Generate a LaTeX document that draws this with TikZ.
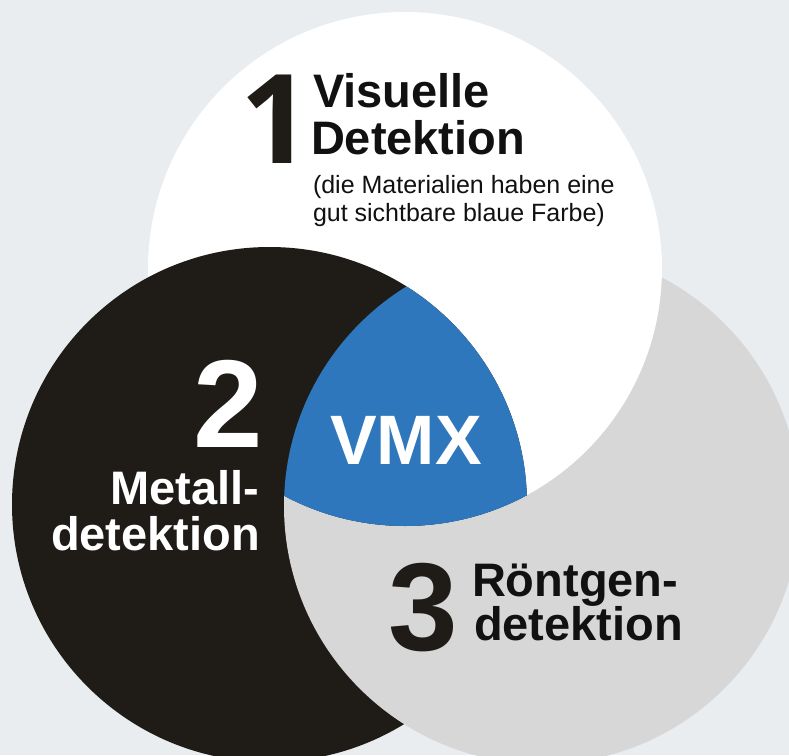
\documentclass[tikz,border=0pt]{standalone}
\usepackage{fontspec}
\setmainfont{Liberation Sans}
\newfontfamily\digitone{Open Sans}
\definecolor{vbg}{RGB}{233,237,240}
\definecolor{vgray}{RGB}{215,215,215}
\definecolor{vblack}{RGB}{31,28,24}
\definecolor{vblue}{RGB}{46,119,188}
\definecolor{vtext}{RGB}{17,17,17}
\tikzset{
  lbl/.style={inner sep=0pt, outer sep=0pt},
  bigdigit/.style={lbl, font=\bfseries\fontsize{125}{125}\selectfont},
  head/.style={lbl, font=\bfseries\fontsize{47}{47}\selectfont},
  sub/.style={lbl, font=\fontsize{25}{25}\selectfont, text=vtext},
}
\begin{document}
\begin{tikzpicture}[x=1pt,y=-1pt]
\useasboundingbox (0,0) rectangle (789,755);
\fill[vbg] (0,0) rectangle (789,755);
\coordinate (cw) at (405,269);
\coordinate (cb) at (269.5,504.5);
\coordinate (cg) at (542,506);
\fill[white] (cw) circle[radius=257pt];
\fill[vblack] (cb) circle[radius=257.5pt];
% gray only outside the white circle
\begin{scope}[even odd rule]
  \clip (-10,-10) rectangle (800,800) (cw) circle[radius=257pt];
  \fill[vgray] (cg) circle[radius=258pt];
\end{scope}
% triple intersection
\begin{scope}
  \clip (cw) circle[radius=257pt];
  \clip (cb) circle[radius=257.5pt];
  \fill[vblue] (cg) circle[radius=258pt];
\end{scope}
% 1
\node[lbl, text=vblack, font=\digitone\bfseries\fontsize{124}{124}\selectfont, anchor=base west] (d1) at (240,163) {1};
\node[head, text=vtext, anchor=base west] (v1) at (313,107) {Visuelle};
\node[head, text=vtext, anchor=base west] (v2) at (311,154) {Detektion};
\node[sub, anchor=base west] (s1) at (313,193) {(die Materialien haben eine};
\node[sub, anchor=base west] (s2) at (313,221) {gut sichtbare blaue Farbe)};
% 2
\node[bigdigit, text=white, anchor=base east] (d2) at (263,447) {2};
\node[head, text=white, anchor=base east] (m1) at (259,504) {Metall-};
\node[head, text=white, anchor=base east] (m2) at (260,550) {detektion};
% VMX
\node[lbl, text=white, font=\bfseries\fontsize{70}{70}\selectfont, anchor=base] (vmx) at (406,464) {VMX};
% 3
\node[bigdigit, text=vblack, anchor=base west] (d3) at (388,650) {3};
\node[head, text=vtext, anchor=base west] (r1) at (472,596) {Röntgen-};
\node[head, text=vtext, anchor=base west] (r2) at (474,640) {detektion};
\end{tikzpicture}
\end{document}
